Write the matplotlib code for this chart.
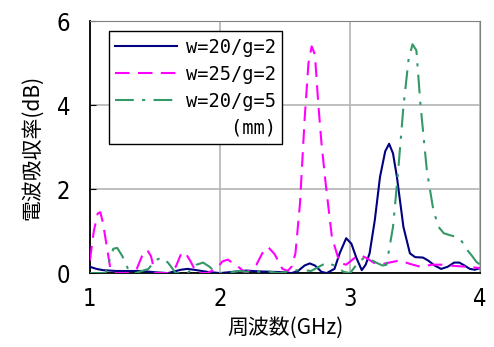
import matplotlib
matplotlib.use('Agg')
import matplotlib.pyplot as plt
from matplotlib.lines import Line2D

# w=20/g=2
blue_x = [1.0, 1.05, 1.1, 1.2, 1.3, 1.4, 1.5, 1.6, 1.7, 1.75, 1.8, 1.9, 2.0, 2.1, 2.2, 2.3, 2.4, 2.5,
          2.55, 2.6, 2.65, 2.69, 2.73, 2.78, 2.82, 2.88, 2.92, 2.97, 3.01, 3.05, 3.09, 3.12, 3.15, 3.19,
          3.23, 3.27, 3.3, 3.33, 3.36, 3.41, 3.46, 3.5, 3.56, 3.6, 3.65, 3.7, 3.75, 3.8, 3.84, 3.88,
          3.92, 3.96, 4.0]
blue_y = [0.15, 0.1, 0.07, 0.05, 0.05, 0.05, 0.02, 0.0, 0.08, 0.1, 0.08, 0.03, 0.0, 0.03, 0.06, 0.04,
          0.03, 0.02, 0.0, 0.05, 0.18, 0.23, 0.18, 0.03, 0.0, 0.1, 0.47, 0.83, 0.7, 0.35, 0.07, 0.2,
          0.47, 1.26, 2.29, 2.9, 3.08, 2.85, 2.29, 1.1, 0.47, 0.38, 0.37, 0.3, 0.18, 0.1, 0.15, 0.25,
          0.25, 0.18, 0.1, 0.08, 0.12]

# w=25/g=2
mag_x = [1.0, 1.03, 1.06, 1.08, 1.1, 1.13, 1.16, 1.2, 1.3, 1.36, 1.4, 1.44, 1.47, 1.5, 1.6, 1.66, 1.7,
         1.73, 1.77, 1.82, 1.9, 1.97, 2.02, 2.06, 2.12, 2.2, 2.28, 2.33, 2.37, 2.42, 2.48, 2.52, 2.55,
         2.58, 2.615, 2.65, 2.68, 2.705, 2.73, 2.755, 2.78, 2.81, 2.86, 2.92, 2.97, 3.03, 3.08, 3.13,
         3.18, 3.23, 3.3, 3.38, 3.46, 3.54, 3.63, 3.72, 3.8, 3.9, 4.0]
mag_y = [0.3, 1.0, 1.42, 1.45, 1.2, 0.63, 0.05, 0.0, 0.0, 0.1, 0.4, 0.55, 0.4, 0.0, 0.0, 0.15, 0.45,
         0.5, 0.3, 0.0, 0.0, 0.1, 0.28, 0.32, 0.2, 0.0, 0.2, 0.5, 0.62, 0.45, 0.1, 0.05, 0.15, 0.47,
         1.66, 3.64, 5.0, 5.4, 5.2, 4.05, 3.1, 2.2, 0.86, 0.24, 0.2, 0.35, 0.43, 0.35, 0.25, 0.2, 0.25,
         0.3, 0.22, 0.15, 0.2, 0.2, 0.17, 0.15, 0.12]

# w=20/g=5
grn_x = [1.0, 1.12, 1.15, 1.18, 1.21, 1.25, 1.3, 1.35, 1.45, 1.5, 1.55, 1.6, 1.66, 1.75, 1.82, 1.87,
         1.92, 1.97, 2.05, 2.15, 2.25, 2.35, 2.45, 2.55, 2.62, 2.7, 2.76, 2.82, 2.88, 2.95, 3.0, 3.05,
         3.1, 3.14, 3.2, 3.25, 3.28, 3.33, 3.37, 3.41, 3.45, 3.48, 3.51, 3.54, 3.59, 3.64, 3.68, 3.72,
         3.77, 3.82, 3.86, 3.9, 3.94, 3.97, 4.0]
grn_y = [0.0, 0.0, 0.3, 0.58, 0.6, 0.4, 0.05, 0.0, 0.1, 0.3, 0.37, 0.25, 0.0, 0.0, 0.2, 0.25, 0.15,
         0.0, 0.0, 0.05, 0.02, 0.05, 0.0, 0.05, 0.08, 0.05, 0.15, 0.25, 0.18, 0.03, 0.0, 0.2, 0.35,
         0.35, 0.25, 0.18, 0.2, 1.1, 2.45, 3.96, 5.1, 5.45, 5.3, 4.05, 2.45, 1.5, 1.1, 0.95, 0.9, 0.86,
         0.75, 0.55, 0.4, 0.27, 0.2]

labels = ['w=20/g=2', 'w=25/g=2', 'w=20/g=5']
xticks = [1, 2, 3, 4]
yticks = [0, 2, 4, 6]

cjk = ['Noto Sans CJK JP', 'DejaVu Sans']

fig = plt.figure(figsize=(4.94, 3.47), dpi=100)
ax = fig.add_axes([0.182, 0.213, 0.79, 0.726])

ax.plot(blue_x, blue_y, color='#000080', lw=1.5, label=labels[0], zorder=3)
ax.plot(mag_x, mag_y, color='#ff00ff', lw=1.5, dashes=(7, 4), label=labels[1], zorder=3)
ax.plot(grn_x, grn_y, color='#339966', lw=1.5, dashes=(9, 4, 1.5, 4), label=labels[2], zorder=3)

ax.set_xlim(1, 4)
ax.set_ylim(0, 6)
ax.set_xticks(xticks)
ax.set_yticks(yticks)
ax.grid(True, color='#b4b4b4', lw=1.2)
ax.set_axisbelow(True)
for s in ['top', 'right']:
    ax.spines[s].set_color('#808080')
for s in ['left', 'bottom']:
    ax.spines[s].set_color('black')
    ax.spines[s].set_linewidth(1.3)
ax.tick_params(axis='x', length=0, pad=10, labelsize=17)
ax.tick_params(axis='y', direction='in', length=4, pad=14, labelsize=17)
for t in ax.get_xticklabels() + ax.get_yticklabels():
    t.set_fontfamily('DejaVu Sans')
    t.set_fontstretch('condensed')

ax.set_xlabel('周波数(GHz)', family=cjk, fontsize=15, labelpad=4)
ax.set_ylabel('電波吸収率(dB)', family=cjk, fontsize=15, labelpad=10)

handles, labs = ax.get_legend_handles_labels()
handles.append(Line2D([], [], color='none'))
labs.append('    (mm)')
leg = ax.legend(handles, labs, loc='upper left', bbox_to_anchor=(0.048, 0.96),
                prop={'family': 'DejaVu Sans Mono', 'size': 13.5}, handlelength=3.3,
                handletextpad=0.45, labelspacing=0.42, borderpad=0.35, borderaxespad=0,
                fancybox=False, framealpha=1, edgecolor='black')
leg.get_frame().set_linewidth(1.0)

fig.savefig('out.png', dpi=100)
